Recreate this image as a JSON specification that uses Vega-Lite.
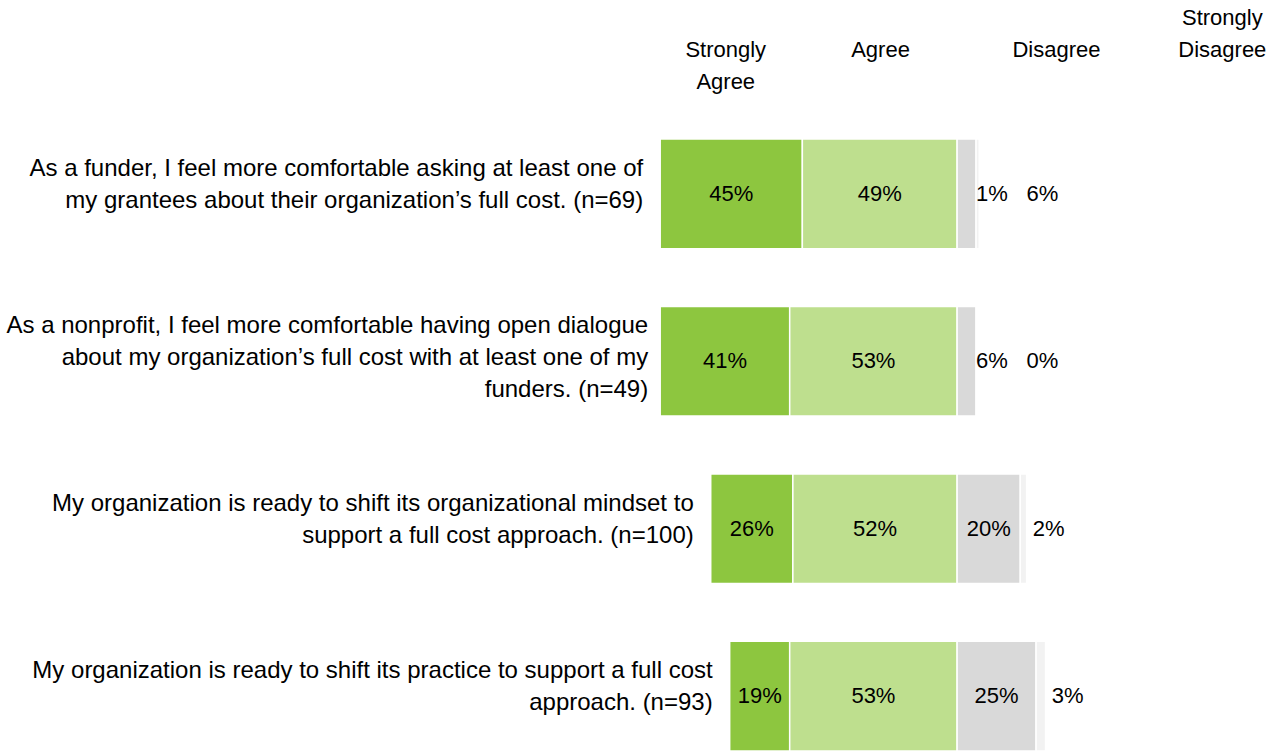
{
  "$schema": "https://vega.github.io/schema/vega-lite/v6.json",
  "width": 1273,
  "height": 612,
  "autosize": {"type": "none"},
  "padding": {"top": 139, "left": 0, "right": 0, "bottom": 0},
  "background": "white",
  "config": {
    "view": {"stroke": null},
    "font": "Liberation Sans",
    "text": {"font": "Liberation Sans", "fontSize": 22, "color": "#000000"}
  },
  "datasets": {
    "segments": [
      {"q": "q1", "category": "Strongly Agree", "pct": 45, "label": "45%"},
      {"q": "q1", "category": "Agree", "pct": 49, "label": "49%"},
      {"q": "q1", "category": "Disagree", "pct": 6, "label": "1%"},
      {"q": "q1", "category": "Strongly Disagree", "pct": 1, "label": "6%"},
      {"q": "q2", "category": "Strongly Agree", "pct": 41, "label": "41%"},
      {"q": "q2", "category": "Agree", "pct": 53, "label": "53%"},
      {"q": "q2", "category": "Disagree", "pct": 6, "label": "6%"},
      {"q": "q2", "category": "Strongly Disagree", "pct": 0, "label": "0%"},
      {"q": "q3", "category": "Strongly Agree", "pct": 26, "label": "26%"},
      {"q": "q3", "category": "Agree", "pct": 52, "label": "52%"},
      {"q": "q3", "category": "Disagree", "pct": 20, "label": "20%"},
      {"q": "q3", "category": "Strongly Disagree", "pct": 2, "label": "2%"},
      {"q": "q4", "category": "Strongly Agree", "pct": 19, "label": "19%"},
      {"q": "q4", "category": "Agree", "pct": 53, "label": "53%"},
      {"q": "q4", "category": "Disagree", "pct": 25, "label": "25%"},
      {"q": "q4", "category": "Strongly Disagree", "pct": 3, "label": "3%"}
    ],
    "questions": [
      {"q": "q1", "lines": ["As a funder, I feel more comfortable asking at least one of", "my grantees about their organization’s full cost. (n=69)"]},
      {"q": "q2", "lines": ["As a nonprofit, I feel more comfortable having open dialogue", "about my organization’s full cost with at least one of my", "funders. (n=49)"]},
      {"q": "q3", "lines": ["My organization is ready to shift its organizational mindset to", "support a full cost approach. (n=100)"]},
      {"q": "q4", "lines": ["My organization is ready to shift its practice to support a full cost", "approach. (n=93)"]}
    ]
  },
  "data": {"name": "segments"},
  "transform": [
    {"calculate": "indexof(['Agree','Strongly Agree','Disagree','Strongly Disagree'], datum.category)", "as": "ord"},
    {"calculate": "datum.ord < 2 ? -datum.pct : datum.pct", "as": "signed"},
    {"stack": "signed", "groupby": ["q"], "sort": [{"field": "ord", "order": "ascending"}], "as": ["x0", "x1"]},
    {"calculate": "datum.ord < 2 ? min(datum.x0, datum.x1) : max(datum.x0, datum.x1)", "as": "outer"},
    {"calculate": "datum.ord < 2 ? (datum.x0 + datum.x1) / 2 : datum.ord == 2 ? (datum.pct >= 10 ? (datum.x0 + datum.x1) / 2 : datum.outer + 5) : max(datum.outer, 20) + 7", "as": "labelX"}
  ],
  "encoding": {
    "y": {
      "field": "q",
      "type": "nominal",
      "sort": ["q1", "q2", "q3", "q4"],
      "scale": {"paddingInner": 0.345, "paddingOuter": 0},
      "axis": null
    }
  },
  "layer": [
    {
      "mark": {"type": "bar", "stroke": "white", "strokeWidth": 1.5},
      "encoding": {
        "x": {
          "field": "x0",
          "type": "quantitative",
          "scale": {"domain": [-303, 100], "nice": false, "zero": false},
          "axis": {
            "orient": "top",
            "values": [-73.4, -24.4, 31.3, 83.8],
            "labelExpr": "datum.value < -50 ? ['Strongly', 'Agree'] : datum.value < 0 ? 'Agree' : datum.value < 60 ? 'Disagree' : ['Strongly', 'Disagree']",
            "title": null,
            "domain": false,
            "ticks": false,
            "tickSize": 0,
            "grid": false,
            "labelPadding": 105,
            "labelFont": "Liberation Sans",
            "labelFontSize": 22,
            "labelColor": "#000000",
            "labelLineHeight": 32,
            "labelBaseline": {"condition": {"test": "datum.value > 60", "value": "line-bottom"}, "value": "line-top"},
            "labelAlign": "center",
            "labelOverlap": false,
            "labelFlush": false,
            "labelBound": false
          }
        },
        "x2": {"field": "x1"},
        "color": {
          "field": "category",
          "type": "nominal",
          "scale": {
            "domain": ["Strongly Agree", "Agree", "Disagree", "Strongly Disagree"],
            "range": ["#8DC63F", "#BEDF8E", "#D9D9D9", "#F2F2F2"]
          },
          "legend": null
        }
      }
    },
    {
      "mark": {"type": "text", "align": "center", "baseline": "middle"},
      "encoding": {
        "x": {"field": "labelX", "type": "quantitative"},
        "text": {"field": "label"}
      }
    },
    {
      "transform": [
        {"filter": "datum.ord == 1"},
        {"lookup": "q", "from": {"data": {"name": "questions"}, "key": "q", "fields": ["lines"]}},
        {"filter": "length(datum.lines) == 2"}
      ],
      "mark": {"type": "text", "align": "right", "baseline": "middle", "dx": -17, "dy": -25, "lineHeight": 32, "fontSize": 24},
      "encoding": {
        "x": {"field": "outer", "type": "quantitative"},
        "text": {"field": "lines"}
      }
    },
    {
      "transform": [
        {"filter": "datum.ord == 1"},
        {"lookup": "q", "from": {"data": {"name": "questions"}, "key": "q", "fields": ["lines"]}},
        {"filter": "length(datum.lines) == 3"}
      ],
      "mark": {"type": "text", "align": "right", "baseline": "middle", "dx": -12, "dy": -35, "lineHeight": 32, "fontSize": 24},
      "encoding": {
        "x": {"field": "outer", "type": "quantitative"},
        "text": {"field": "lines"}
      }
    }
  ]
}
